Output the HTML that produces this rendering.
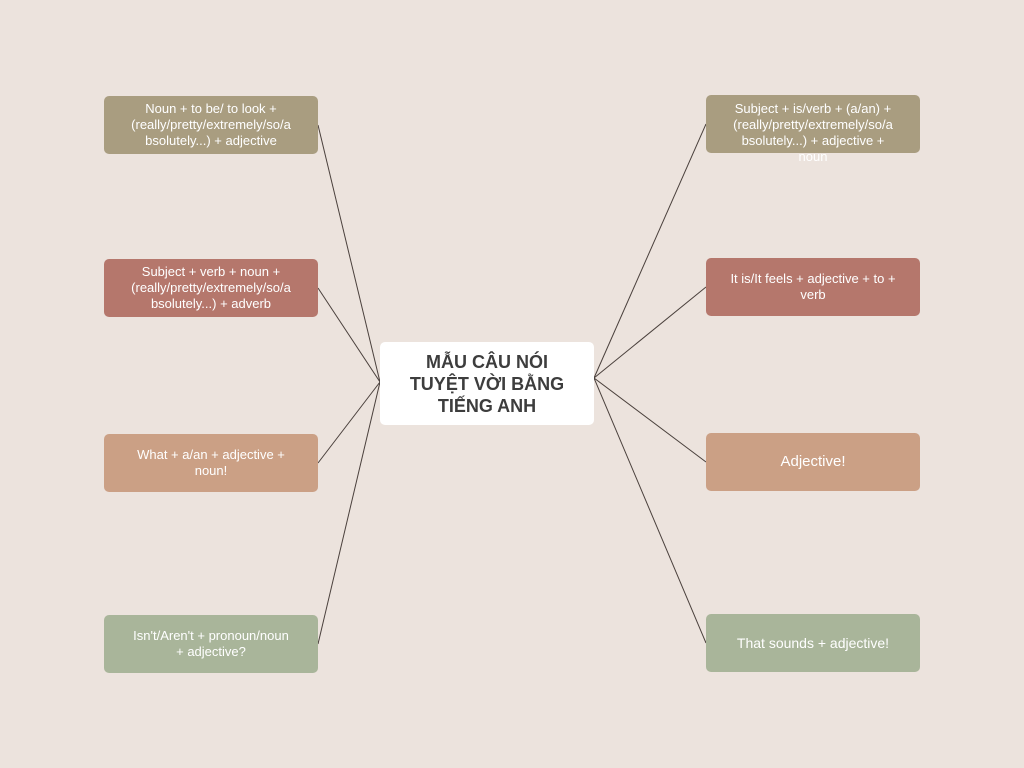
<!DOCTYPE html>
<html><head><meta charset="utf-8"><style>
body{margin:0;width:1024px;height:768px;background:#ece3dd;position:relative;overflow:hidden;font-family:"Liberation Sans",sans-serif}
.b{position:absolute;width:214px;height:58px;border-radius:5px;color:#fff;font-size:13px;line-height:16px;text-align:center;display:flex;align-items:center;justify-content:center;box-sizing:border-box;padding:0 10px}
.o{background:#a99d80}.r{background:#b5776c}.t{background:#cba085}.s{background:#a9b59a}
.c{position:absolute;left:380px;top:342px;width:214px;height:83px;background:#fff;border-radius:5px;color:#3d3d3d;font-weight:bold;font-size:18px;line-height:22px;text-align:center;display:flex;align-items:center;justify-content:center}
svg{position:absolute;left:0;top:0}
</style></head><body>
<svg width="1024" height="768"><g stroke="#4a403c" stroke-width="1" fill="none">
<line x1="318" y1="125" x2="380" y2="382"/><line x1="318" y1="288" x2="380" y2="382"/>
<line x1="318" y1="463" x2="380" y2="382"/><line x1="318" y1="644" x2="380" y2="382"/>
<line x1="706" y1="124" x2="594" y2="378"/><line x1="706" y1="287" x2="594" y2="378"/>
<line x1="706" y1="462" x2="594" y2="378"/><line x1="706" y1="643" x2="594" y2="378"/>
</g></svg>
<div class="b o" style="left:104px;top:96px">Noun + to be/ to look +<br>(really/pretty/extremely/so/a<br>bsolutely...) + adjective</div>
<div class="b r" style="left:104px;top:259px">Subject + verb + noun +<br>(really/pretty/extremely/so/a<br>bsolutely...) + adverb</div>
<div class="b t" style="left:104px;top:434px">What + a/an + adjective +<br>noun!</div>
<div class="b s" style="left:104px;top:615px">Isn't/Aren't + pronoun/noun<br>+ adjective?</div>
<div class="b o" style="left:706px;top:95px;align-items:flex-start;padding-top:6px">Subject + is/verb + (a/an) +<br>(really/pretty/extremely/so/a<br>bsolutely...) + adjective +<br>noun</div>
<div class="b r" style="left:706px;top:258px">It is/It feels + adjective + to +<br>verb</div>
<div class="b t" style="left:706px;top:433px;font-size:15px">Adjective!</div>
<div class="b s" style="left:706px;top:614px;font-size:14px">That sounds + adjective!</div>
<div class="c">MẪU CÂU NÓI<br>TUYỆT VỜI BẰNG<br>TIẾNG ANH</div>
</body></html>
